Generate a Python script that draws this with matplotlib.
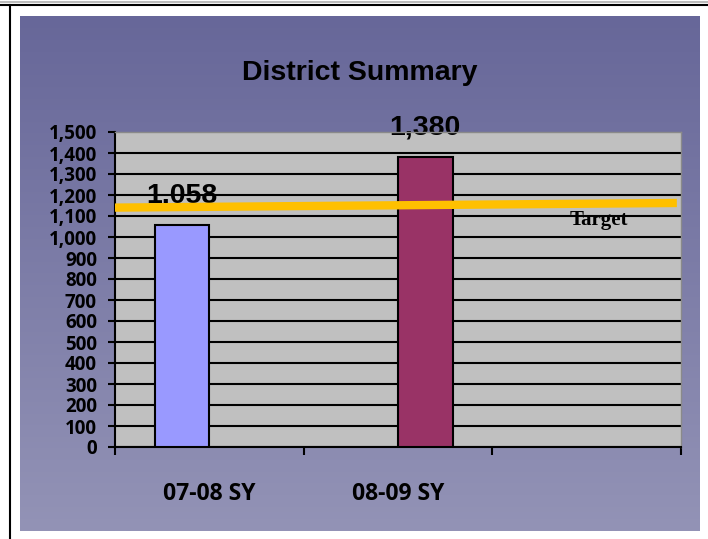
import numpy as np
import matplotlib
matplotlib.use("Agg")
import matplotlib.pyplot as plt
from matplotlib.lines import Line2D
from matplotlib.ticker import FuncFormatter

# ---- data ----
categories = ["07-08 SY", "08-09 SY", ""]
bar_labels = ["07-08 SY", "08-09 SY"]
bar_values = [1058, 1380]
bar_colors = ["#9999FF", "#993366"]
bar_positions = [-0.145, 1.145]
target_x = [-0.5, 2.478]
target_y = [1140, 1162]
target_label = "Target"
title = "District Summary"
yticks = list(range(0, 1501, 100))

plt.rcParams["font.family"] = ["Open Sans", "DejaVu Sans"]
plt.rcParams["font.weight"] = "bold"

W, H = 708, 539
fig = plt.figure(figsize=(W / 100, H / 100), dpi=100)
fig.patch.set_facecolor("white")

# outer border lines
fig.add_artist(Line2D([0, 1], [1 - 5 / H, 1 - 5 / H], color="black", lw=1.5, transform=fig.transFigure))
fig.add_artist(Line2D([0, 1], [1 - 2 / H, 1 - 2 / H], color="#BBBBBB", lw=1.5, transform=fig.transFigure))
fig.add_artist(Line2D([10 / W, 10 / W], [0, 1 - 5 / H], color="black", lw=1.5, transform=fig.transFigure))

# gradient panel
bg = fig.add_axes([20 / W, (H - 531) / H, 680 / W, 515 / H], zorder=0)
top = np.array([103, 103, 153]) / 255
bot = np.array([147, 147, 182]) / 255
t = np.linspace(0, 1, 256)[:, None]
grad = top[None, :] * (1 - t) + bot[None, :] * t
bg.imshow(grad[:, None, :], aspect="auto", extent=[0, 1, 0, 1])
bg.axis("off")

ax = fig.add_axes([115 / W, (H - 447) / H, 566 / W, 315 / H], zorder=1)
ax.set_facecolor("#C0C0C0")
ax.set_xlim(-0.5, 2.5)
ax.set_ylim(0, 1500)

ax.bar(bar_positions, bar_values, width=0.29, color=bar_colors, edgecolor="black", linewidth=1.5, zorder=3)

for x, v in zip(bar_positions, bar_values):
    ax.annotate(f"{v:,}", (x, v), xytext=(0, 16), textcoords="offset points",
                ha="center", va="baseline", fontsize=20.5, fontweight="bold",
                family="Liberation Sans", color="black", zorder=2, annotation_clip=False)

ax.plot(target_x, target_y, color="#FFC000", lw=6, solid_capstyle="butt", zorder=5)
ax.text(2.065, 1081, target_label, ha="center", va="center", fontsize=15,
        fontweight="bold", family="Liberation Serif", zorder=6)

ax.set_yticks(yticks)
ax.yaxis.set_major_formatter(FuncFormatter(lambda v, p: f"{int(v):,}"))
ax.yaxis.grid(True, color="black", lw=1.5, zorder=1)
ax.set_axisbelow(True)
ax.get_ygridlines()[-1].set_visible(False)
ax.tick_params(axis="y", direction="out", length=5, width=1.5, pad=8, color="black", labelsize=13.5)

ax.set_xticks([-0.5, 0.5, 1.5, 2.5])
ax.set_xticklabels([])
ax.set_xticks([0, 1], minor=True)
ax.set_xticklabels(bar_labels, minor=True, fontsize=16.5, fontweight="bold")
ax.tick_params(axis="x", which="major", direction="out", length=6, width=1.5, color="black")
ax.tick_params(axis="x", which="minor", length=0, pad=25)

for s in ["left", "bottom"]:
    ax.spines[s].set_color("black")
    ax.spines[s].set_linewidth(1.5)
for s in ["top", "right"]:
    ax.spines[s].set_color("#8A8A8A")
    ax.spines[s].set_linewidth(1)

fig.text(360 / W, 1 - 73 / H, title, ha="center", va="center", fontsize=20.5,
         fontweight="bold", family="Liberation Sans")

fig.savefig("out.png", dpi=100)
